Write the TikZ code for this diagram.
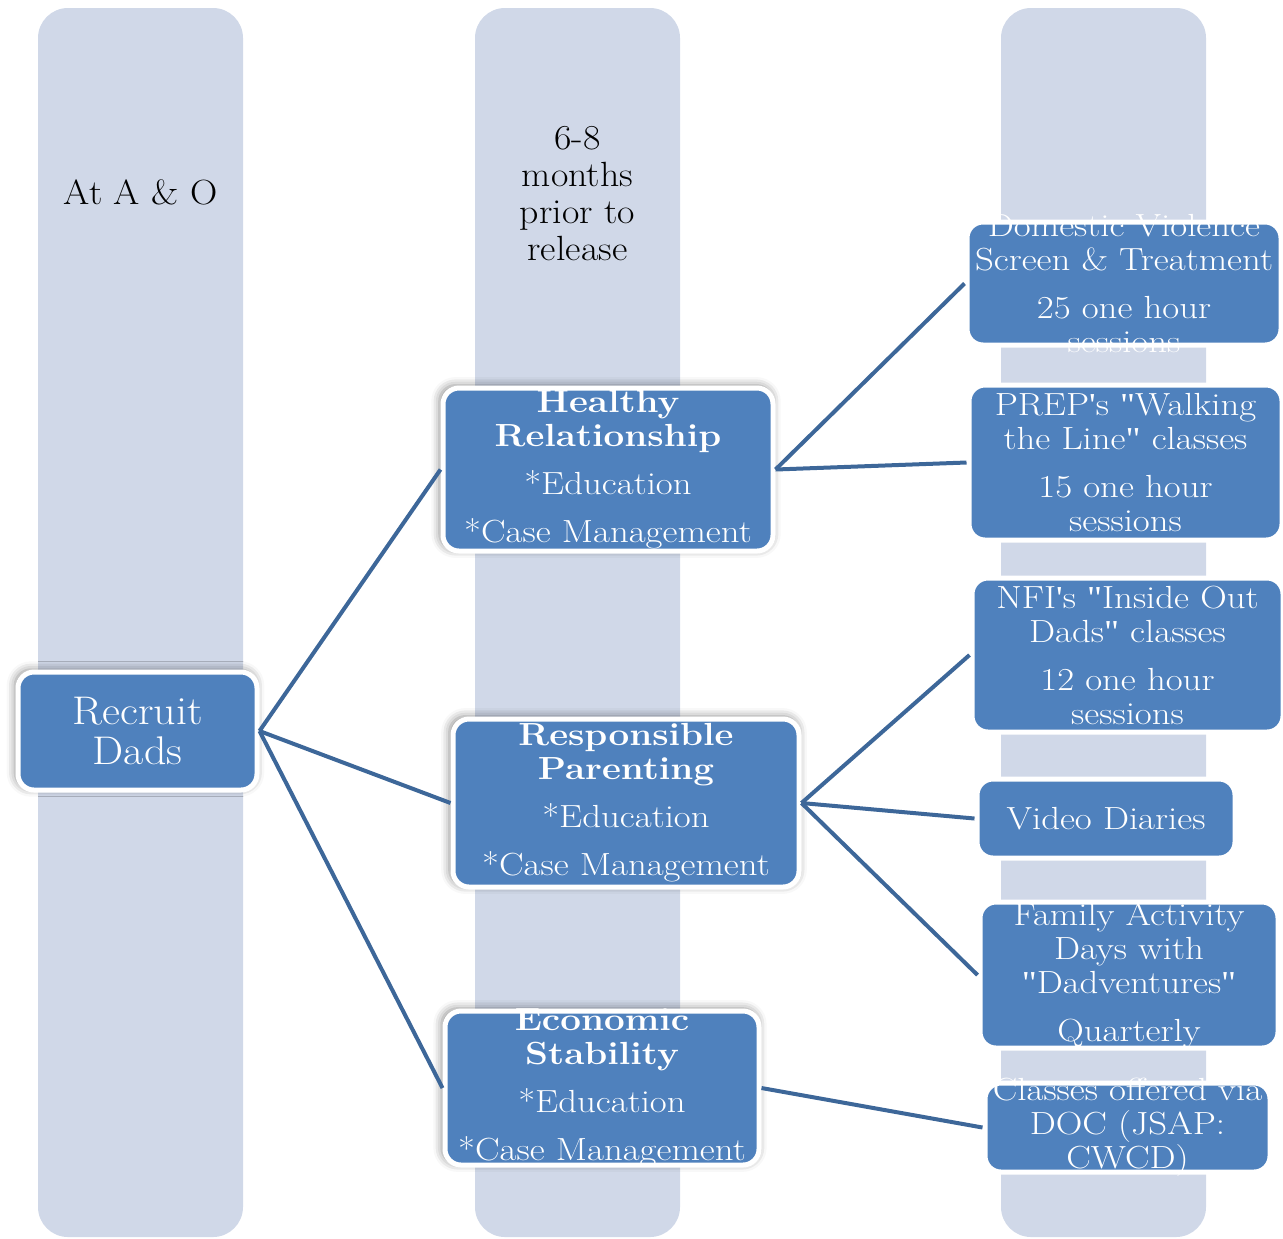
\documentclass[tikz,border=0pt]{standalone}
\usepackage{fontspec}
\usetikzlibrary{shadows.blur}
\newfontfamily\quotefont{Liberation Serif}
\newcommand{\dq}{{\quotefont"}}
\newcommand{\sq}{{\quotefont'}}
\definecolor{colbg}{HTML}{D0D8E8}
\definecolor{boxbg}{HTML}{4F81BD}
\definecolor{linkc}{HTML}{3D6799}
\tikzset{
  colbar/.style={fill=colbg, rounded corners=15pt, minimum width=102.5pt, minimum height=614.5pt, inner sep=0pt},
  collab/.style={text=black, font=\fontsize{17.5}{18.5}\selectfont, align=center, xscale=1.08, transform shape},
  mainbox/.style={fill=boxbg, draw=white, line width=2.5pt, rounded corners=8pt, inner sep=0pt,
    blur shadow={shadow xshift=-1pt, shadow yshift=1pt, shadow scale=1.01, shadow blur radius=4pt, shadow opacity=45}},
  subbox/.style={fill=boxbg, draw=white, line width=2.5pt, rounded corners=8pt, inner sep=0pt},
  boxtxt/.style={text=white, font=\fontsize{16}{17}\selectfont, align=center, inner sep=0pt, xscale=1.15, transform shape},
  bigtxt/.style={text=white, font=\fontsize{20}{20}\selectfont, align=center, inner sep=0pt, xscale=1.1, transform shape},
  link/.style={draw=linkc, line width=2pt},
}
\begin{document}
\begin{tikzpicture}[x=0.5pt,y=-0.5pt]
  \useasboundingbox (0,0) rectangle (1283,1238);
  % columns
  \foreach \i/\cx in {1/140.5,2/577.5,3/1103.5}{
    \node[colbar] (col\i) at (\cx,622.5) {};
  }
  \node[collab] (lab1) at (140.5,192) {At A \& O};
  \node[collab] (lab2) at (577.5,194) {6-8\\months\\prior to\\release};
  % left and middle
  \node[mainbox, minimum width=119.5pt, minimum height=59pt] (rec) at (137.5,731) {};
  \node[bigtxt] (rec-t) at (rec) {Recruit\\Dads};
  \node[mainbox, minimum width=165pt, minimum height=81.5pt] (hr) at (608,469.5) {};
  \node[boxtxt] (hr-t) at (hr) {{\bfseries Healthy}\\{\bfseries Relationship}\\[7pt]*Education\\[7pt]*Case Management};
  \node[mainbox, minimum width=173pt, minimum height=84pt] (rp) at (626,803) {};
  \node[boxtxt] (rp-t) at (rp) {{\bfseries Responsible}\\{\bfseries Parenting}\\[7pt]*Education\\[7pt]*Case Management};
  \node[mainbox, minimum width=157pt, minimum height=77pt] (es) at (602,1088) {};
  \node[boxtxt] (es-t) at (es) {{\bfseries Economic}\\{\bfseries Stability}\\[7pt]*Education\\[7pt]*Case Management};
  % right
  \node[subbox, minimum width=157pt, minimum height=61.5pt] (dv) at (1124,283.5) {};
  \node[boxtxt] (dv-t) at (dv) {Domestic Violence\\Screen \& Treatment\\[7pt]25 one hour\\sessions};
  \node[subbox, minimum width=156.5pt, minimum height=77.5pt] (prep) at (1125.5,462.5) {};
  \node[boxtxt] (prep-t) at (prep) {PREP\sq s \dq Walking\\the Line\dq{} classes\\[7pt]15 one hour\\sessions};
  \node[subbox, minimum width=155.5pt, minimum height=77pt] (nfi) at (1127.5,655) {};
  \node[boxtxt] (nfi-t) at (nfi) {NFI\sq s \dq Inside Out\\Dads\dq{} classes\\[7pt]12 one hour\\sessions};
  \node[subbox, minimum width=129pt, minimum height=39.5pt] (video) at (1106,818.5) {};
  \node[boxtxt] (video-t) at (video) {Video Diaries};
  \node[subbox, minimum width=149pt, minimum height=73pt] (family) at (1129,975) {};
  \node[boxtxt] (family-t) at (family) {Family Activity\\Days with\\\dq Dadventures\dq\\[7pt]Quarterly};
  \node[subbox, minimum width=142.5pt, minimum height=44.5pt] (classes) at (1127.5,1127.5) {};
  \node[boxtxt] (classes-t) at (classes) {Classes offered via\\DOC (JSAP:\\CWCD)};
  % links
  \foreach \a/\b in {rec/hr,rec/rp,rec/es,hr/dv,hr/prep,rp/nfi,rp/video,rp/family,es/classes}{
    \draw[link] (\a.east) -- (\b.west);
  }
\end{tikzpicture}
\end{document}
